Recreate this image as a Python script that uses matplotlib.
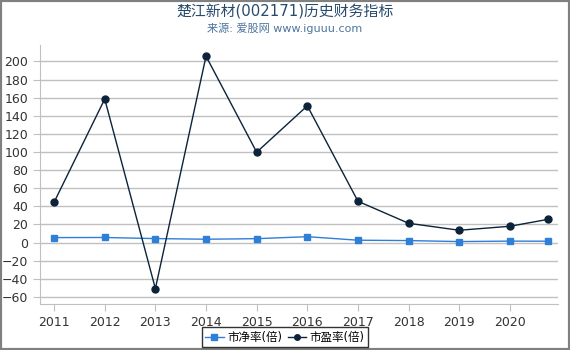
import matplotlib
matplotlib.use('Agg')
import matplotlib.pyplot as plt
from matplotlib.patches import Rectangle

plt.rcParams['font.family'] = ['DejaVu Sans', 'Noto Sans CJK SC']

years = [2011, 2012, 2013, 2014, 2015, 2016, 2017, 2018, 2019, 2020, 2020.75]
year_ticks = [2011, 2012, 2013, 2014, 2015, 2016, 2017, 2018, 2019, 2020]
pb = [5.5, 5.6, 4.4, 3.7, 4.3, 6.5, 2.6, 2.2, 1.1, 1.6, 1.5]
pe = [44.5, 158.5, -50.8, 205.8, 99.8, 151.0, 45.6, 21.3, 13.6, 18.0, 25.6]

fig = plt.figure(figsize=(5.7, 3.5), dpi=100, facecolor='white')
ax = fig.add_axes([0.070, 0.131, 0.909, 0.740])

grid_c = '#c0c0c0'
ax.set_yticks(range(-60, 201, 20))
ax.yaxis.grid(True, color=grid_c, linewidth=1)
ax.set_axisbelow(True)

ax.plot(years, pb, '-s', color='#2f7ed8', markersize=5, linewidth=1, label='市净率(倍)')
ax.plot(years, pe, '-o', color='#0d233a', markersize=5, linewidth=1, label='市盈率(倍)')

ax.set_xlim(2010.72, 2020.95)
ax.set_ylim(-68, 218)
ax.set_xticks(year_ticks)
ax.set_xticklabels([str(y) for y in year_ticks])

for s in ['top', 'right']:
    ax.spines[s].set_visible(False)
ax.spines['left'].set_color('#c0c0c0')
ax.spines['bottom'].set_color('#c0c0c0')
ax.tick_params(axis='both', colors='#c0c0c0', labelcolor='#333333', labelsize=9, length=5)

fig.text(0.5, 0.967, '楚江新材(002171)历史财务指标', ha='center', va='center',
         fontsize=10.7, color='#274b6d')
fig.text(0.5, 0.92, '来源: 爱股网 www.iguuu.com', ha='center', va='center',
         fontsize=8, color='#4d759e')

handles, labels = ax.get_legend_handles_labels()
leg = fig.legend(handles, labels, loc='center', bbox_to_anchor=(0.5, 0.037), ncol=2,
                 frameon=True, fontsize=8.3, handlelength=1.6, handletextpad=0.3,
                 columnspacing=0.5, borderpad=0.3, fancybox=False, markerscale=0.8)
leg.get_frame().set_edgecolor('black')
leg.get_frame().set_linewidth(1)

fig.patches.append(Rectangle((0, 0), 1, 1, transform=fig.transFigure, fill=False,
                             edgecolor='#808080', linewidth=3))

fig.savefig('out.png', dpi=100)
